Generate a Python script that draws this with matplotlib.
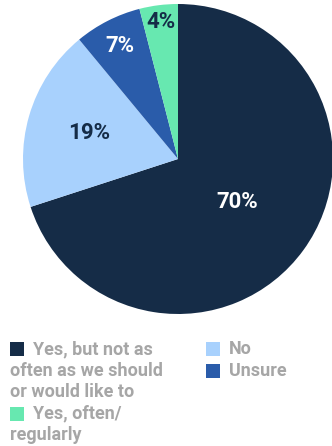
import numpy as np
import matplotlib.pyplot as plt
from matplotlib.patches import Rectangle

categories = ["Yes, but not as\noften as we should\nor would like to", "No", "Unsure", "Yes, often/\nregularly"]
values = [70, 19, 7, 4]
colors = ["#152c47", "#a8d1fd", "#2a5caa", "#67e8b0"]
label_colors = ["white", "#152c47", "white", "#152c47"]
label_radius = [0.47, 0.60, 0.82, 0.89]

W, H = 332, 446
fig = plt.figure(figsize=(W / 100, H / 100), dpi=100)
ax = fig.add_axes([0, 0, 1, 1])

cx, cy, r = 178, H - 159, 155
wedges, _ = ax.pie(values, colors=colors, startangle=90, counterclock=False,
                   center=(cx, cy), radius=r, frame=True,
                   wedgeprops=dict(linewidth=0))
ax.set_xlim(0, W)
ax.set_ylim(0, H)
ax.set_aspect("equal")
ax.axis("off")

FONT = "Roboto"
for w, v, lc, lr in zip(wedges, values, label_colors, label_radius):
    mid = np.deg2rad((w.theta1 + w.theta2) / 2)
    ax.text(cx + lr * r * np.cos(mid), cy + lr * r * np.sin(mid), f"{v}%",
            ha="center", va="center", color=lc, fontsize=16,
            fontweight="bold", family=FONT)

# legend
legend_txt = "#a6a6a6"
line_h = 21.5
items = [(0, 10, 349), (1, 206, 349), (2, 206, 370.5), (3, 10, 413.5)]
for idx, x0, y0 in items:
    ax.add_patch(Rectangle((x0, H - y0 - 7), 14, 14, color=colors[idx], lw=0))
    lines = categories[idx].split("\n")
    for k, ln in enumerate(lines):
        tx = x0 + 23 if k == 0 else 10
        ax.text(tx, H - (y0 + k * line_h), ln, ha="left", va="center",
                color=legend_txt, fontsize=13, fontweight="bold", family=FONT)

fig.savefig("out.png", dpi=100)
